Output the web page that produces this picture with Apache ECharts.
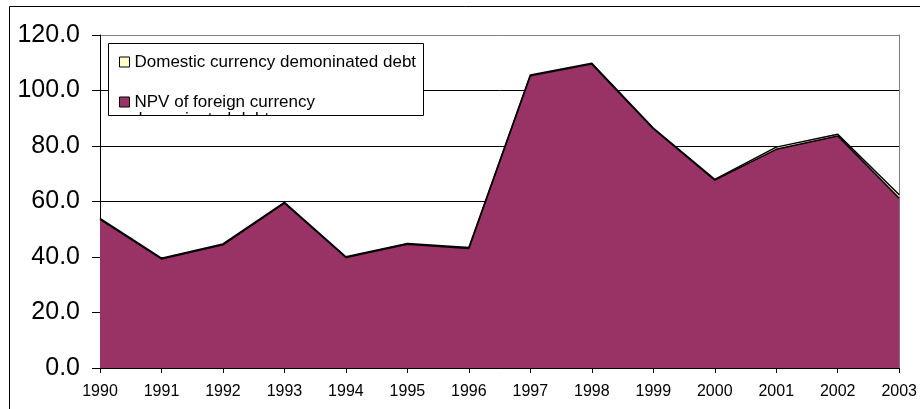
<!DOCTYPE html>
<html>
<head>
<meta charset="utf-8">
<script src="https://cdn.jsdelivr.net/npm/echarts@6/dist/echarts.min.js"></script>
<style>html,body{margin:0;padding:0;background:#fff}#c{width:920px;height:409px}</style>
</head>
<body>
<div id="c"></div>
<script>
var years = ['1990','1991','1992','1993','1994','1995','1996','1997','1998','1999','2000','2001','2002','2003'];
var npvForeign = [53.6, 39.3, 44.4, 59.4, 39.8, 44.6, 43.1, 105.3, 109.5, 86.2, 67.7, 78.8, 83.6, 61.2];
var domestic = [0.3, 0.3, 0.3, 0.3, 0.3, 0.3, 0.3, 0.3, 0.3, 0.3, 0.3, 0.8, 0.6, 1.2];
var yTicks = [0, 20, 40, 60, 80, 100, 120];

var nameDomestic = 'Domestic currency demoninated debt';
var nameNpv = 'NPV of foreign currency denominated debt';

var chart = echarts.init(document.getElementById('c'), null, {renderer: 'canvas'});
var FONT = '"Liberation Sans", Arial, sans-serif';
chart.setOption({
  animation: false,
  backgroundColor: '#fff',
  grid: {left: 100, right: 20, top: 35, bottom: 41, containLabel: false},
  xAxis: {
    type: 'category', data: years, boundaryGap: false,
    axisLine: {show: true, lineStyle: {color: '#000', width: 1}},
    axisTick: {show: true, length: 5, lineStyle: {color: '#000'}},
    axisLabel: {color: '#000', fontFamily: FONT, fontSize: 16, margin: 16},
    splitLine: {show: false}
  },
  yAxis: [{
    type: 'value', min: yTicks[0], max: yTicks[yTicks.length - 1], interval: 20,
    axisLine: {show: true, lineStyle: {color: '#000', width: 1}},
    axisTick: {show: true, length: 8, lineStyle: {color: '#000'}},
    axisLabel: {color: '#000', fontFamily: FONT, fontSize: 25, margin: 20,
      formatter: function (v) { return v.toFixed(1); }},
    splitLine: {show: true, lineStyle: {color: ['#000','#000','#000','#000','#000','#000','#808080'], width: 1}}
  }, {
    type: 'value', position: 'right', min: yTicks[0], max: yTicks[yTicks.length - 1], interval: 20,
    axisLine: {show: true, lineStyle: {color: '#808080', width: 1}},
    axisTick: {show: false}, axisLabel: {show: false}, splitLine: {show: false}
  }],
  legend: {
    orient: 'vertical', left: 114, top: 47, itemWidth: 10, itemHeight: 10, itemGap: 20,
    icon: 'rect', selectedMode: false,
    data: [
      {name: nameDomestic, itemStyle: {color: '#FFFFCC', borderColor: '#000', borderWidth: 1}},
      {name: nameNpv, itemStyle: {color: '#993366', borderColor: '#000', borderWidth: 1}}
    ],
    formatter: function (n) { return n === nameNpv ? 'NPV of foreign currency' : n; },
    textStyle: {color: '#000', fontFamily: FONT, fontSize: 17, lineHeight: 20},
    z: 10
  },
  graphic: [
    {type: 'rect', z: 0, silent: true, shape: {x: 9.5, y: 6.5, width: 960, height: 460},
      style: {fill: 'none', stroke: '#000', lineWidth: 1}},
    {type: 'rect', z: 8, silent: true, shape: {x: 108.5, y: 43.5, width: 315, height: 72},
      style: {fill: '#fff', stroke: '#000', lineWidth: 1}},
    {type: 'text', z: 9, silent: true, x: 133, y: 119,
      style: {text: 'denominated debt', fill: '#000', font: '17px ' + FONT, textVerticalAlign: 'middle', verticalAlign: 'middle'}},
    {type: 'rect', z: 9.5, silent: true, shape: {x: 109, y: 116, width: 314, height: 20},
      style: {fill: '#fff', stroke: 'none'}}
  ],
  series: [{
    name: nameNpv, type: 'line', stack: 'total', data: npvForeign, symbol: 'none',
    lineStyle: {color: '#000', width: 1.5},
    areaStyle: {color: '#993366', opacity: 1},
    itemStyle: {color: '#993366'}
  }, {
    name: nameDomestic, type: 'line', stack: 'total', data: domestic, symbol: 'none',
    lineStyle: {color: '#000', width: 1.5},
    areaStyle: {color: '#FFFFCC', opacity: 1},
    itemStyle: {color: '#FFFFCC'}
  }]
});
</script>
</body>
</html>
